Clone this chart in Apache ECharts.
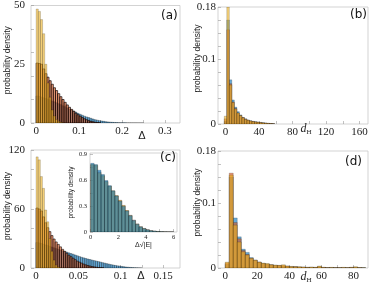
<!DOCTYPE html>
<html><head><meta charset="utf-8">
<script src="https://cdn.jsdelivr.net/npm/echarts@6/dist/echarts.min.js"></script>
<style>html,body{margin:0;padding:0;background:#fff}#c{width:374px;height:287px}</style>
</head><body><div id="c"></div>
<script>
// ---- data (probability densities per bin) ----
// panel (a): Δ, bins of 0.005 from 0
const binA = [0, 0.005];
const blueA = [11.5,11.3,11.0,10.7,10.4,10.0,9.7,9.3,9.0,8.6,8.2,7.8,7.3,6.9,6.4,5.9,5.5,5.0,4.6,4.1,3.7,3.3,2.9,2.6,2.3,2.0,1.7,1.4,1.2,1.0,0.85,0.7,0.55,0.45,0.35,0.28,0.22,0.18,0.14,0.11,0.09,0.07,0.05,0.04,0.03,0.02,0.02,0.01,0.01,0.01];
const orangeA = [25.5,25.3,25,23,21,19.5,18,16.5,15,13.8,12.5,11.2,10,8.8,7.7,6.7,5.8,5,4.2,3.5,2.9,2.3,1.8,1.4,1.0,0.7,0.5,0.3,0.2,0.1];
const yellowA = [48.5,47.5,44,38,25,17,11,5.5,3,1.5,0.7,0.3,0.1];
// panel (b): d_H, bins of 3 from -1.5
const binB = [-1.5, 3];
const blueB = [0.004,0.16,0.068,0.037,0.026,0.019,0.014,0.010,0.008,0.006,0.005,0.004,0.0035,0.003,0.0025,0.002,0.0015,0.001,0.0008,0.0005];
const orangeB = [0.008,0.145,0.062,0.034,0.024,0.017,0.013,0.010,0.0075,0.006,0.0048,0.004,0.0033,0.0028,0.0023,0.0018,0.0014,0.001,0.0007,0.0004];
const yellowB = [0.012,0.18,0.06,0.033,0.023,0.017,0.013,0.0095,0.0072,0.0058,0.0046,0.0038,0.0032,0.0027,0.0022,0.0017,0.0013,0.001,0.0007,0.0004];
// panel (c): Δ, bins of 0.0025 from 0
const binC = [0, 0.0025];
const blueC = [26,25.5,25,24.2,23.5,22.8,22,21.2,20.5,19.7,19,18.3,17.5,16.8,16.1,15.4,14.7,14,13.2,12.4,11.6,10.9,10.3,9.7,9.1,8.6,8.0,7.5,7.0,6.5,6.0,5.4,4.9,4.4,3.9,3.4,3.0,2.6,2.2,1.9,1.6,1.3,1.0,0.8,0.6,0.45,0.3,0.2,0.1,0.05];
const orangeC = [61,60,58,52,46,41,37,33,29.5,26.5,24,21.5,19,17,15,13,11.5,10,8.5,7,6,5,4,3.2,2.5,2,1.5,1.1,0.8,0.5,0.3,0.2];
const yellowC = [113,110,93,81,59,47,30,17,8,3,1,0.3];
// inset of (c): Δ√|E|, bins of 0.25 from 0
const binI = [0, 0.25];
const blueI = [0.80,0.785,0.72,0.67,0.60,0.54,0.48,0.42,0.36,0.30,0.245,0.19,0.135,0.09,0.06,0.04,0.026,0.016,0.01,0.006,0.004,0.002,0.001,0.0005];
const orangeI = [0.78,0.77,0.70,0.65,0.585,0.53,0.475,0.42,0.365,0.305,0.25,0.195,0.14,0.095,0.062,0.042,0.027,0.017,0.011,0.007,0.004,0.002,0.001,0.0005];
const yellowI = [0.79,0.78,0.69,0.66,0.59,0.535,0.48,0.425,0.37,0.31,0.25,0.19,0.13,0.09,0.06,0.04,0.025,0.015,0.01,0.006,0.003,0.002,0.001,0.0005];
// panel (d): d_H, bins of 2.5 from 0
const binD = [0, 2.5];
const blueD = [0.006,0.14,0.077,0.048,0.029,0.024,0.016,0.012,0.009,0.007,0.006,0.005,0.004,0.0035,0.003,0.0025,0.002,0.002,0.0015,0.001,0.001,0.001,0.0008,0.002,0.0008,0.0005,0.0005,0.0005,0.0003,0.0003,0.0003,0.0008,0.001,0.0003,0.0003];
const orangeD = [0.008,0.146,0.07,0.045,0.027,0.021,0.015,0.012,0.009,0.007,0.006,0.005,0.004,0.004,0.004,0.003,0.002,0.002,0.0015,0.0015,0.001,0.001,0.001,0.002,0.001,0.0005,0.0005,0.0005,0.0005,0.0005,0.0005,0.001,0.001,0.0005,0];
const yellowD = [0.009,0.143,0.066,0.040,0.025,0.020,0.015,0.012,0.009,0.0075,0.007,0.005,0.0045,0.004,0.005,0.003,0.0025,0.002,0.002,0.0015,0.001,0.0015,0.001,0.003,0.001,0.0005,0.001,0.0005,0.0005,0.001,0.0005,0.001,0.002,0.0005,0.0005];
// tick labels
const xLabA = [0,0.1,0.2,0.3], yLabA = [0,25,50];
const xLabB = [0,40,80,120,160], yLabB = [0,0.1,0.18];
const xLabC = [0,0.05,0.1,0.15], yLabC = [0,60,120];
const xLabD = [0,20,40,60,80], yLabD = [0,0.1,0.18];
const xLabI = [0,2,4,6], yLabI = [0,0.3,0.6,0.9];
const panelTags = ['(a)','(b)','(c)','(d)'];

// ---- styling ----
const C_BLUE = 'rgba(0,114,189,0.6)', C_ORANGE = 'rgba(217,83,25,0.6)', C_YELLOW = 'rgba(237,177,32,0.6)';
const C_ORANGE_INSET = 'rgba(217,83,25,0.3)';
const SERIF = 'Liberation Serif', SANS = 'Liberation Sans';

function hist(vals, bin){ return vals.map((v,i)=>[bin[0]+i*bin[1], bin[0]+(i+1)*bin[1], v]); }
function series(idx, vals, bin, color, name, edge, lw){
  return {type:'custom', name, xAxisIndex:idx, yAxisIndex:idx, clip:true, silent:true,
    data: hist(vals, bin), encode:{x:[0,1], y:2},
    renderItem:(p, api)=>{
      const a = api.coord([api.value(0), api.value(2)]);
      const b = api.coord([api.value(1), 0]);
      return {type:'rect', shape:{x:a[0], y:a[1], width:b[0]-a[0], height:b[1]-a[1]},
        style:{fill:color, stroke:edge, lineWidth:lw||0.5}};
    }};
}
function xAx(idx, min, max, labs, ticks, fs, margin, name, nameGap, shift, nfs){
  return {type:'value', gridIndex:idx, min, max, position:'bottom',
    axisLine:{show:false, onZero:false}, splitLine:{show:false},
    axisTick:{inside:true, length:3, lineStyle:{color:'#999', width:0.6}, customValues:ticks},
    axisLabel:{customValues:labs, fontFamily:SERIF, fontSize:fs, color:'#222', margin},
    name, nameLocation:'middle', nameGap, nameMoveOverlap:false,
    nameTextStyle:{padding:[0,0,0,shift], fontFamily:SANS, fontSize:nfs||11, color:'#222',
      rich:{d:{fontFamily:SERIF, fontStyle:'italic', fontSize:12, color:'#222'},
            h:{fontFamily:SERIF, fontSize:7, color:'#222', padding:[7,0,0,0]}}}};
}
function yAx(idx, min, max, labs, ticks, fs, margin, nameGap, nfs, shift){
  return {type:'value', gridIndex:idx, min, max, position:'left',
    axisLine:{show:false, onZero:false}, splitLine:{show:false},
    axisTick:{inside:true, length:3, lineStyle:{color:'#999', width:0.6}, customValues:ticks},
    axisLabel:{customValues:labs, fontFamily:SERIF, fontSize:fs, color:'#222', margin},
    name:'probability density', nameLocation:'middle', nameGap, nameRotate:90, nameMoveOverlap:false,
    nameTextStyle:{fontFamily:SANS, fontSize:nfs, color:'#222', padding:[0,0,0,shift]}};
}
const rng=(a,b,s)=>{const r=[];for(let v=a;v<=b+1e-9;v+=s)r.push(+v.toFixed(6));return r;};

const grids = [
  {left:31, top:5, width:149, height:118},
  {left:218, top:7, width:150, height:117},
  {left:31, top:150, width:149, height:118},
  {left:218, top:151, width:150, height:117},
  {left:90, top:153, width:87, height:79}
].map(g=>Object.assign({show:true, borderColor:'#c8c8c8', borderWidth:0.8, backgroundColor:'#fff', containLabel:false}, g));

const E_DARK = 'rgba(10,0,0,0.95)', E_MID = 'rgba(0,0,0,0.6)', E_SOFT = 'rgba(0,0,0,0.35)', E_INSET = 'rgba(0,0,0,0.35)';
const option = {
  animation:false,
  grid: grids,
  xAxis:[
    xAx(0,-0.012,0.335,xLabA,rng(0,0.3,0.05),11,3,'Δ',7,73),
    xAx(1,-9,170,xLabB,rng(0,160,20),11,3,'{d|d}{h|H}',-2,26),
    xAx(2,-0.006,0.17,xLabC,rng(0,0.15,0.025),11,3,'Δ',2,71),
    xAx(3,-4.5,89,xLabD,rng(0,80,10),11,3,'{d|d}{h|H}',2,26),
    xAx(4,-0.05,6.25,xLabI,rng(0,6,1),6.5,2,'Δ√|E|',10,20,7)
  ],
  yAxis:[
    yAx(0,0,50,yLabA,rng(0,50,10),11,6,19,8.5,8),
    yAx(1,0,0.18,yLabB,rng(0,0.18,0.02),11,2,16,8.5,14),
    yAx(2,0,120,yLabC,rng(0,120,20),11,6,19,8.5,6),
    yAx(3,0,0.18,yLabD,rng(0,0.18,0.02),11,2,16,8.5,14),
    yAx(4,0,0.92,yLabI,rng(0,0.9,0.15),6.5,3,15,6.5,0)
  ],
  series:[
    series(0,blueA,binA,C_BLUE,'A1',E_MID), series(0,orangeA,binA,C_ORANGE,'A2',E_DARK,0.7), series(0,yellowA,binA,C_YELLOW,'A3',E_SOFT),
    series(1,blueB,binB,C_BLUE,'B1',E_SOFT), series(1,orangeB,binB,C_ORANGE,'B2',E_SOFT), series(1,yellowB,binB,C_YELLOW,'B3',E_SOFT),
    series(2,blueC,binC,C_BLUE,'C1',E_MID), series(2,orangeC,binC,C_ORANGE,'C2',E_DARK,0.6), series(2,yellowC,binC,C_YELLOW,'C3',E_SOFT),
    series(3,blueD,binD,C_BLUE,'D1',E_SOFT), series(3,orangeD,binD,C_ORANGE,'D2',E_SOFT), series(3,yellowD,binD,C_YELLOW,'D3',E_SOFT),
    series(4,orangeI,binI,C_ORANGE_INSET,'I2',E_INSET), series(4,yellowI,binI,C_YELLOW,'I3',E_INSET), series(4,blueI,binI,C_BLUE,'I1',E_INSET)
  ],
  graphic:[
    {type:'text', left:161, top:10, style:{text:panelTags[0], font:'12px "DejaVu Sans"', fill:'#111'}},
    {type:'text', left:350, top:9, style:{text:panelTags[1], font:'12px "DejaVu Sans"', fill:'#111'}},
    {type:'text', left:160, top:152, style:{text:panelTags[2], font:'12px "DejaVu Sans"', fill:'#111'}},
    {type:'text', left:345, top:156, style:{text:panelTags[3], font:'12px "DejaVu Sans"', fill:'#111'}}
  ]
};
const chart = echarts.init(document.getElementById('c'), null, {renderer:'canvas'});
chart.setOption(option);
</script></body></html>
